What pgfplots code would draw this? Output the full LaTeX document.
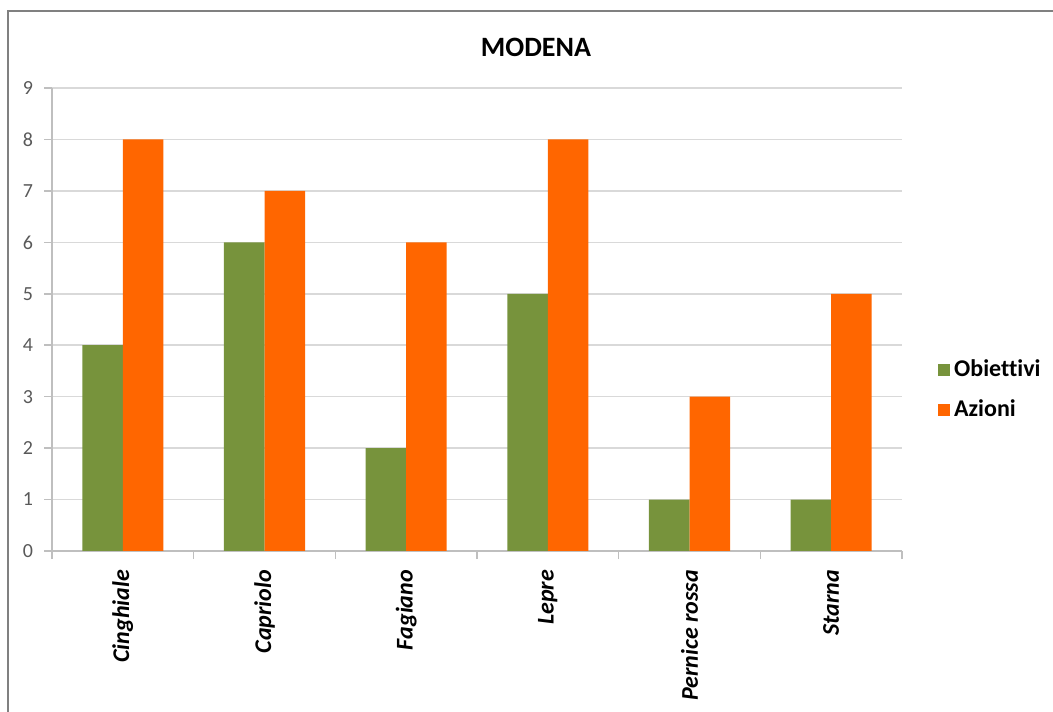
\documentclass[border=0pt]{standalone}
\usepackage{fontspec}
\setmainfont{Carlito}[Ligatures=NoCommon]
\usepackage{pgfplots}
\pgfplotsset{compat=1.18}
\definecolor{gobj}{HTML}{77933C}
\definecolor{oaz}{HTML}{FF6600}
\definecolor{gridc}{HTML}{D9D9D9}
\definecolor{axc}{HTML}{BFBFBF}
\definecolor{txtc}{HTML}{595959}
\begin{document}
\begin{tikzpicture}
\path[use as bounding box] (0,0) rectangle (526.5pt,355.5pt);
\draw[color=black!50, line width=1pt] (4pt,-5pt) -- (4pt,350pt) -- (540pt,350pt);
\node[font=\fontsize{14}{16}\selectfont\bfseries] at (268pt,332pt) {MODENA};
\begin{axis}[
  at={(26pt,80pt)}, anchor=south west,
  scale only axis, width=425pt, height=231.5pt,
  ybar=0pt, bar width=0.286,
  xmin=-0.5, xmax=5.5, ymin=0, ymax=9,
  xtick={0,...,5},
  xticklabels={Cinghiale,Capriolo,Fagiano,Lepre,Pernice rossa,Starna},
  x tick label style={rotate=90, anchor=east, font=\fontsize{12}{14}\selectfont\bfseries\itshape, xshift=-2pt},
  major x tick style={draw=none},
  minor xtick={-0.5,0.5,1.5,2.5,3.5,4.5,5.5},
  minor x tick style={draw=axc, line width=0.8pt},
  minor tick length=4pt,
  ytick={0,...,9},
  y tick label style={font=\fontsize{10}{12}\selectfont, text=txtc, xshift=-2pt},
  /pgf/number format/assume math mode=true,
  ymajorgrids, grid style={gridc, line width=0.8pt},
  major y tick style={draw=axc, line width=0.8pt}, major tick length=4pt,
  tick align=outside, tick pos=left,
  axis x line*=bottom, axis y line*=left,
  axis line style={draw=axc, line width=0.8pt, -},
  legend style={draw=none, fill=none, at={(1.035,0.348)}, anchor=west,
    font=\fontsize{12}{14}\selectfont\bfseries, row sep=6pt},
  legend cell align=left,
  legend image code/.code={\fill[#1] (0pt,-3pt) rectangle (6pt,3pt);},
]
\addplot[fill=gobj, draw=none] coordinates {(0,4) (1,6) (2,2) (3,5) (4,1) (5,1)};
\addplot[fill=oaz, draw=none] coordinates {(0,8) (1,7) (2,6) (3,8) (4,3) (5,5)};
\legend{Obiettivi,Azioni}
\end{axis}
\end{tikzpicture}
\end{document}
